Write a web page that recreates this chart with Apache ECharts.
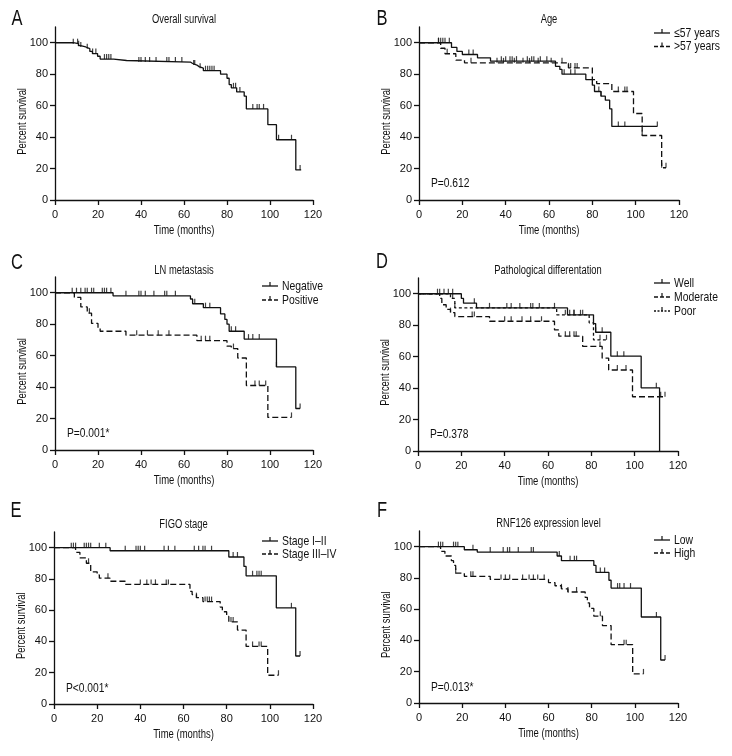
<!DOCTYPE html>
<html><head><meta charset="utf-8">
<script src="https://cdn.jsdelivr.net/npm/echarts@6/dist/echarts.min.js"></script>
<style>html,body{margin:0;padding:0;background:#fff}#c{width:732px;height:756px}</style>
</head><body><div id="c"></div>
<script>
// ---------- DATA ----------
const xTicks = [0, 20, 40, 60, 80, 100, 120];
const yTicks = [0, 20, 40, 60, 80, 100];

// Panel A: overall survival
const A_t = [0, 8.5, 10.9, 11.9, 14.3, 16.2, 17.4, 19.8, 21, 27.3, 33.3, 63, 64, 66, 67, 69, 77, 80, 81, 82, 84.5, 88, 89, 99, 103, 112, 114.5];
const A_s = [100, 99.4, 98.1, 97.3, 96.2, 94.5, 93.1, 91.4, 89.6, 88.7, 87.7, 86.8, 85.8, 84.8, 83.8, 82.2, 80, 77.4, 73.4, 71.3, 68.7, 66, 57.9, 47.9, 38.3, 19.1, 19.1];
const A_c = [8.5, 10.5, 11, 12, 15, 17.5, 19, 23, 24, 25, 26, 39, 40, 42, 44, 47, 52, 53, 56, 59, 64.5, 65, 67.5, 70, 71, 72, 73, 74, 83, 84, 86, 92, 94, 95, 97, 104, 110, 114];

// Panel B: age
const B1_t = [0, 15, 17.5, 20, 27, 33, 63, 65, 66, 77, 80, 81, 84, 86, 88, 89, 110];
const B1_s = [100, 97, 94.5, 92.5, 90.4, 88.3, 85, 83, 80, 76.5, 73, 69, 66, 63.5, 58, 46.8, 46.8];
const B1_c = [9, 10, 11, 12, 14, 23, 25, 38, 40, 42, 43, 45, 50, 52, 53, 56, 59, 67, 70, 72, 83, 84, 92, 95, 110];
const B2_t = [0, 10, 12, 17, 21, 69, 80, 82, 89, 99, 103, 112, 114];
const B2_s = [100, 96.5, 93, 89, 87.2, 84, 76.5, 74, 69, 55, 41, 20.5, 20.5];
const B2_c = [9, 13, 24, 36, 39, 44, 48, 51, 55, 61, 66, 69, 70, 72, 73, 92, 95, 96, 103, 112, 114];

// Panel C: LN metastasis
const C1_t = [0, 27, 63, 64, 69, 77, 79, 80, 81, 88, 103, 112, 114];
const C1_s = [100, 98, 96, 93, 90.5, 86.5, 83, 80, 75.5, 70.5, 52.8, 26.4, 26.4];
const C1_c = [8, 10, 12, 14, 15, 17, 18, 22, 23, 24, 26, 33, 39, 40, 42, 46, 51, 52, 56, 65, 70, 72, 82, 84, 90, 92, 95, 103, 114];
const C2_t = [0, 9, 12, 15, 17, 20, 21, 33, 66, 80, 82, 85, 89, 99, 110];
const C2_s = [100, 97, 91, 87, 80.5, 77.5, 75.5, 73, 69.5, 66, 64.5, 58.5, 41, 20.7, 20.7];
const C2_c = [16, 38, 43, 48, 53, 68, 70, 72, 83, 93, 95, 98, 110];

// Panel D: pathological differentiation
const D1_t = [0, 20, 21, 27, 69, 81, 82, 89, 103, 111.5];
const D1_s = [100, 97, 94, 91, 86.6, 81, 75.5, 60.3, 40.2, 0];
const D1_c = [9, 10, 12, 14, 16, 26, 33, 41, 43, 47, 52, 53, 56, 63, 70, 72, 75, 82, 85, 92, 95, 110];
const D2_t = [0, 10, 11, 13, 15, 17, 33, 63, 65, 76, 85, 88, 99, 114];
const D2_s = [100, 97, 93, 90, 88, 85.5, 82.5, 77, 73, 66.5, 59, 51.5, 34.5, 34.5];
const D2_c = [15, 25, 26, 40, 43, 48, 52, 57, 68, 70, 72, 73, 84, 92, 96, 112, 114];
const D3_t = [0, 15, 17, 64, 79, 81, 87];
const D3_s = [100, 97, 91, 86.6, 81.5, 70.7, 70.7];
const D3_c = [16, 17, 68, 72, 76, 84, 87];

// Panel E: FIGO stage
const E1_t = [0, 26, 81, 88, 89, 103, 112, 114];
const E1_s = [100, 98, 94, 88, 82, 61.5, 30.7, 30.7];
const E1_c = [8, 9, 10, 14, 15, 16, 17, 21, 24, 33, 38, 39, 40, 42, 51, 53, 56, 65, 67, 69, 70, 73, 83, 85, 92, 94, 95, 96, 110, 114];
const E2_t = [0, 10, 12, 15, 17, 20, 21, 26, 33, 63, 64, 66, 69, 77, 78, 80, 81, 85, 89, 99, 104];
const E2_s = [100, 97, 93.5, 90, 84.5, 82.5, 80.5, 78.5, 76.5, 72, 70, 68, 65.5, 62, 59, 56, 52.5, 47.3, 36.8, 18.4, 18.4];
const E2_c = [16, 25, 40, 43, 45, 47, 52, 53, 66, 70, 71, 72, 73, 82, 83, 92, 95, 96, 104];

// Panel F: RNF126 expression level
const F1_t = [0, 21, 27, 64, 66, 81, 82, 88, 89, 103, 112, 114];
const F1_s = [100, 98, 96.5, 94, 91, 88, 83.5, 78.5, 73.5, 55, 27.5, 27.5];
const F1_c = [9, 10, 11, 16, 17, 18, 25, 33, 39, 41, 42, 46, 52, 53, 65, 70, 72, 73, 84, 86, 92, 93, 95, 98, 110, 114];
const F2_t = [0, 10, 12, 15, 16, 17, 21, 33, 60, 63, 66, 69, 77, 78, 79, 81, 85, 89, 99, 104];
const F2_s = [100, 97, 94, 91, 88, 83, 81, 79, 77, 75, 73, 71, 67.5, 64, 60.5, 55.5, 49.5, 37.3, 18.6, 18.6];
const F2_c = [17, 24, 25, 38, 40, 42, 48, 51, 53, 55, 58, 66, 69, 73, 84, 95, 96, 104];

const panelLetters = ['A', 'B', 'C', 'D', 'E', 'F'];
const panelTitles = ['Overall survival', 'Age', 'LN metastasis', 'Pathological differentation', 'FIGO stage', 'RNF126 expression level'];
const xName = 'Time (months)';
const yName = 'Percent survival';
const legendB = ['\u226457 years', '>57 years'];
const legendC = ['Negative', 'Positive'];
const legendD = ['Well', 'Moderate', 'Poor'];
const legendE = ['Stage I\u2013II', 'Stage III\u2013IV'];
const legendF = ['Low', 'High'];
const pValues = [null, 'P=0.612', 'P=0.001*', 'P=0.378', 'P<0.001*', 'P=0.013*'];

// ---------- LAYOUT / STYLE ----------
const FONT = "'Liberation Sans', Arial, sans-serif";
const INK = '#111';
const DASH = { solid: 'solid', long: [6, 3], short: [3, 2.5] };

const grids = [
  { left: 55, top: 27, width: 258, height: 173 },
  { left: 419, top: 27, width: 260, height: 173 },
  { left: 55, top: 277, width: 258, height: 173 },
  { left: 418, top: 278, width: 260, height: 173 },
  { left: 54, top: 532, width: 259, height: 172 },
  { left: 419, top: 531, width: 259, height: 172 }
];
const letterPos = [[17, 19], [382, 19], [17, 263], [382, 262], [16, 511], [382, 511]];
const titleY = [20, 20, 271, 271, 525, 524];

const panels = [
  { curves: [[A_t, A_s, A_c, 'solid']], legend: null },
  { curves: [[B1_t, B1_s, B1_c, 'solid'], [B2_t, B2_s, B2_c, 'long']], legend: { names: legendB, x: 654, y: 33, dy: 13.5 } },
  { curves: [[C1_t, C1_s, C1_c, 'solid'], [C2_t, C2_s, C2_c, 'long']], legend: { names: legendC, x: 262, y: 286, dy: 14 } },
  { curves: [[D1_t, D1_s, D1_c, 'solid'], [D2_t, D2_s, D2_c, 'long'], [D3_t, D3_s, D3_c, 'short']], legend: { names: legendD, x: 654, y: 283, dy: 14 } },
  { curves: [[E1_t, E1_s, E1_c, 'solid'], [E2_t, E2_s, E2_c, 'long']], legend: { names: legendE, x: 262, y: 541, dy: 13 } },
  { curves: [[F1_t, F1_s, F1_c, 'solid'], [F2_t, F2_s, F2_c, 'long']], legend: { names: legendF, x: 654, y: 540, dy: 13 } }
];

function survAt(ts, ss, t) {
  let v = ss[0];
  for (let i = 0; i < ts.length; i++) { if (ts[i] <= t) v = ss[i]; }
  return v;
}

// condensed-looking text: normal font squeezed horizontally
function gtext(text, x, y, size, sx, align, rot) {
  return {
    type: 'text', x: x, y: y, scaleX: sx, rotation: rot || 0, silent: true,
    style: { text: text, fill: INK, fontSize: size, fontFamily: FONT, align: align || 'left', verticalAlign: 'middle' }
  };
}

const xAxes = [], yAxes = [], series = [], graphics = [];
grids.forEach((g, i) => {
  const axisLine = { show: true, lineStyle: { color: INK, width: 1.3 } };
  const axisTick = { show: true, length: 5, inside: false, lineStyle: { color: INK, width: 1.3 } };
  xAxes.push({
    type: 'value', gridIndex: i, min: 0, max: 120, interval: 20,
    axisLine, axisTick, splitLine: { show: false },
    axisLabel: { color: INK, fontSize: 11, fontFamily: FONT, margin: 9 }
  });
  yAxes.push({
    type: 'value', gridIndex: i, min: 0, max: 110, interval: 20,
    axisLine: { show: true, onZero: false, lineStyle: { color: INK, width: 1.3 } },
    axisTick: { show: true, length: 5, customValues: yTicks, lineStyle: { color: INK, width: 1.3 } },
    splitLine: { show: false },
    axisLabel: { color: INK, fontSize: 11, fontFamily: FONT, margin: 7, customValues: yTicks }
  });
  const cx = g.left + g.width / 2;
  graphics.push(gtext(panelTitles[i], cx, titleY[i], 12, 0.78, 'center'));
  graphics.push(gtext(panelLetters[i], letterPos[i][0], letterPos[i][1], 22, 0.75, 'center'));
  graphics.push(gtext(xName, cx, g.top + g.height + 31, 12, 0.79, 'center'));
  graphics.push(gtext(yName, g.left - 32.5, g.top + g.height * (1 - 50 / 110), 12, 0.78, 'center', Math.PI / 2));
  panels[i].curves.forEach(([ts, ss, cs, dash]) => {
    series.push({
      type: 'line', xAxisIndex: i, yAxisIndex: i, step: 'end', symbol: 'none', silent: true,
      data: ts.map((t, k) => [t, ss[k]]),
      lineStyle: { color: INK, width: 1.3, type: DASH[dash] }
    });
    series.push({
      type: 'scatter', xAxisIndex: i, yAxisIndex: i, silent: true,
      symbol: 'rect', symbolSize: [1.2, 5], symbolOffset: [0, -2.5],
      itemStyle: { color: INK },
      data: cs.map(t => [t, survAt(ts, ss, t)])
    });
  });
  const lg = panels[i].legend;
  if (lg) {
    lg.names.forEach((nm, k) => {
      const y = lg.y + k * lg.dy;
      const dash = panels[i].curves[k][3];
      graphics.push({ type: 'line', silent: true, shape: { x1: lg.x, y1: y, x2: lg.x + 16, y2: y },
        style: { stroke: INK, lineWidth: 1.3, lineDash: dash === 'solid' ? null : (dash === 'long' ? [4, 2] : [2, 1.5]) } });
      graphics.push({ type: 'line', silent: true, shape: { x1: lg.x + 8, y1: y, x2: lg.x + 8, y2: y - 4 },
        style: { stroke: INK, lineWidth: 1.2 } });
      graphics.push(gtext(nm, lg.x + 20, y, 13, 0.8, 'left'));
    });
  }
  if (pValues[i]) {
    graphics.push(gtext(pValues[i], g.left + 12, g.top + 156.5, 12.5, 0.82, 'left'));
  }
});

const chart = echarts.init(document.getElementById('c'), null, { renderer: 'canvas' });
chart.setOption({
  backgroundColor: '#fff',
  animation: false,
  grid: grids,
  xAxis: xAxes,
  yAxis: yAxes,
  series: series,
  graphic: graphics
});
</script></body></html>
